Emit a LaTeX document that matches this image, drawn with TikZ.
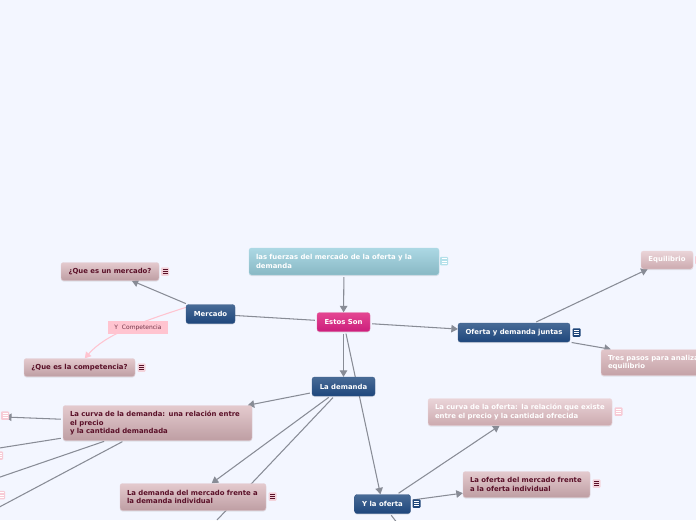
\documentclass[tikz,border=0pt]{standalone}
\usepackage{fontspec}
\setmainfont{DejaVu Sans}
\usetikzlibrary{arrows.meta,backgrounds,shadows}
\definecolor{pagebg}{HTML}{F3F6FF}
\definecolor{linegray}{HTML}{888C96}
\definecolor{maroon}{HTML}{5A1028}
\definecolor{pinklabel}{HTML}{FFC4D0}
\definecolor{iconpink}{HTML}{F3D3DB}
\definecolor{iconpale}{HTML}{F7CBD6}
\definecolor{iconteal}{HTML}{B4E0EA}
\definecolor{iconblue}{HTML}{1E4679}
\tikzset{
  x=1pt,y=-1pt,
  box/.style={rounded corners=2.5pt,inner sep=0pt,font=\fontsize{6.9}{8.4}\selectfont\bfseries,align=left,anchor=center,text=white,drop shadow={shadow xshift=0pt,shadow yshift=-1pt,opacity=.18}},
  topic/.style={box,top color={rgb,255:red,72;green,107;blue,150},bottom color={rgb,255:red,30;green,70;blue,124},draw={rgb,255:red,60;green,92;blue,136},line width=.3pt},
  rootbox/.style={box,top color={rgb,255:red,228;green,70;blue,146},bottom color={rgb,255:red,204;green,30;blue,124},draw={rgb,255:red,226;green,100;blue,160},line width=.3pt},
  tealbox/.style={box,top color={rgb,255:red,172;green,216;blue,228},bottom color={rgb,255:red,136;green,184;blue,196},draw={rgb,255:red,176;green,218;blue,230},line width=.4pt},
  darkpink/.style={box,text=maroon,top color={rgb,255:red,228;green,202;blue,206},bottom color={rgb,255:red,190;green,158;blue,163},draw={rgb,255:red,226;green,204;blue,210},line width=.4pt},
  palepink/.style={box,top color={rgb,255:red,234;green,212;blue,216},bottom color={rgb,255:red,204;green,170;blue,175},draw={rgb,255:red,236;green,216;blue,222},line width=.4pt},
  iconbox/.style={rounded corners=1pt,inner sep=0pt,minimum width=8pt,minimum height=8.5pt,fill=#1},
  conn/.style={draw=linegray,line width=1.05pt,shorten <=2pt},
  tip/.style={conn,-{Triangle[length=6.5pt,width=7.5pt,fill=linegray]}},
  pinkconn/.style={draw=pinklabel,line width=1.05pt,-{Triangle[length=6pt,width=7pt,fill=pinklabel]}},
  linklabel/.style={fill=pinklabel,inner sep=0pt,minimum width=60pt,minimum height=13pt,text=maroon!85,font=\fontsize{6}{7}\selectfont},
}
\newcommand{\noteicon}[5]{% name, x, y, fill, bar
  \node[iconbox=#4] (#1) at (#2,#3) {};
  \draw[#5,line width=.8pt] (#2-2.5,#3-2.2) -- (#2+2.5,#3-2.2) (#2-2.5,#3) -- (#2+2.5,#3) (#2-2.5,#3+2.2) -- (#2+2.5,#3+2.2);
}
\begin{document}
\begin{tikzpicture}
\useasboundingbox (0,0) rectangle (696,520);
\clip (0,0) rectangle (696,520);
% nodes
\node[tealbox,minimum width=190pt,minimum height=27pt,text width=176pt] (fuerzas) at (344,261.5) {las fuerzas del mercado de la oferta y la\\demanda};
\node[rootbox,minimum width=53pt,minimum height=19pt] (estos) at (343.5,322) {Estos Son};
\node[topic,minimum width=49pt,minimum height=19pt] (mercado) at (210.5,314) {Mercado};
\node[topic,minimum width=63pt,minimum height=19pt] (demanda) at (343.5,386.5) {La demanda};
\node[topic,minimum width=112pt,minimum height=19pt] (juntas) at (514,332.5) {Oferta y demanda juntas};
\node[topic,minimum width=56pt,minimum height=19pt] (yoferta) at (382.5,504) {Y la oferta};
\node[darkpink,minimum width=98pt,minimum height=18pt] (quemercado) at (110,271.5) {¿Que es un mercado?};
\node[darkpink,minimum width=111pt,minimum height=18pt] (competencia) at (79.5,367.5) {¿Que es la competencia?};
\node[darkpink,minimum width=189pt,minimum height=35pt,text width=175pt] (curvad) at (157.5,423) {La curva de la demanda: una relación entre\\el precio\\y la cantidad demandada};
\node[darkpink,minimum width=146pt,minimum height=27pt,text width=132pt] (mercadod) at (193,497) {La demanda del mercado frente a\\la demanda individual};
\node[darkpink,minimum width=127pt,minimum height=26pt,text width=113pt] (ofertam) at (526.5,484.5) {La oferta del mercado frente\\a la oferta individual};
\node[palepink,minimum width=184pt,minimum height=27pt,text width=170pt] (curvao) at (520,412) {La curva de la oferta: la relación que existe\\entre el precio y la cantidad ofrecida};
\node[palepink,minimum width=52pt,minimum height=18pt] (equilibrio) at (667,260) {Equilibrio};
\node[palepink,minimum width=172pt,minimum height=26pt,text width=158pt,top color={rgb,255:red,226;green,198;blue,202},bottom color={rgb,255:red,196;green,162;blue,167}] (pasos) at (687,362.5) {Tres pasos para analizar el\\equilibrio};
\node[linklabel] (ylabel) at (138,327.5) {Y\ \ Competencia};
% note icons
\noteicon{i1}{165}{271.5}{iconpink}{maroon}
\noteicon{i2}{141.5}{367.5}{iconpink}{maroon}
\noteicon{i3}{444}{261}{iconteal}{white}
\noteicon{i4}{576.5}{332.5}{iconblue}{white}
\noteicon{i5}{618.5}{411.5}{iconpale}{white}
\noteicon{i6}{596.5}{483.5}{iconpink}{maroon}
\noteicon{i7}{272.5}{496.5}{iconpink}{maroon}
\noteicon{i8}{416.5}{503.5}{iconblue}{white}
\noteicon{i9}{5}{415.5}{iconpale}{white}
\noteicon{i10}{-1}{455.5}{iconpale}{white}
\noteicon{i11}{1}{495}{iconpale}{white}
\noteicon{i12}{699}{260}{iconpale}{white}
% free ends
\coordinate (offa) at (217,520);
\coordinate (offb) at (5,417);
\coordinate (offc) at (-10,449.5);
\coordinate (offd) at (-10,480.5);
\coordinate (offe) at (-10,512);
\coordinate (offf) at (398,524);
\begin{scope}[on background layer]
\fill[pagebg] (0,0) rectangle (696,520);
\draw[tip] (fuerzas) -- (estos);
\draw[conn] (estos) -- (mercado);
\draw[tip] (estos) -- (demanda);
\draw[tip] (estos) -- (yoferta);
\draw[tip] (estos) -- (juntas);
\draw[tip] (mercado) -- (quemercado);
\draw[pinkconn] (mercado.165) .. controls (140,322) and (105,335) .. (competencia.60);
\draw[tip] (demanda) -- (curvad);
\draw[tip] (demanda) -- (mercadod);
\draw[conn] (demanda) -- (offa);
\draw[tip] (juntas) -- (equilibrio);
\draw[tip] (juntas) -- (pasos);
\draw[tip] (yoferta) -- (curvao);
\draw[tip] (yoferta) -- (ofertam);
\draw[conn] (yoferta) -- (offf);
\draw[tip] (curvad) -- (offb);
\draw[conn] (curvad) -- (offc);
\draw[conn] (curvad) -- (offd);
\draw[conn] (curvad) -- (offe);
\end{scope}
\end{tikzpicture}
\end{document}
